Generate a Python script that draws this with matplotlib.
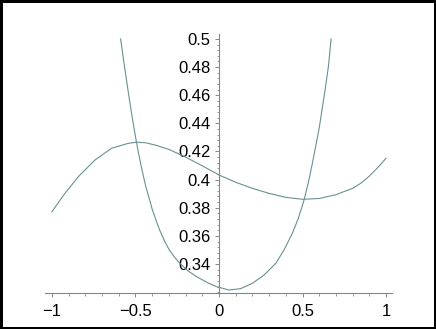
import matplotlib
matplotlib.use("Agg")
import matplotlib.pyplot as plt
import numpy as np
from matplotlib.patches import Rectangle
from matplotlib.ticker import FixedLocator

# steep curve (parabola-like)
x1 = [-0.589, -0.567, -0.545, -0.52, -0.493, -0.468, -0.443, -0.42, -0.4, -0.375,
      -0.353, -0.325, -0.3, -0.27, -0.244, -0.19, -0.134, -0.07, -0.014, 0.06,
      0.13, 0.2, 0.27, 0.34, 0.39, 0.439, 0.475, 0.509, 0.535, 0.559, 0.6,
      0.635, 0.655, 0.671]
y1 = [0.5, 0.4815, 0.4637, 0.4445, 0.4258, 0.4107, 0.3974, 0.3875, 0.379, 0.3704,
      0.3635, 0.3562, 0.3505, 0.3455, 0.3417, 0.3355, 0.331, 0.3268, 0.3239,
      0.3215, 0.3225, 0.3263, 0.3322, 0.3405, 0.3502, 0.3618, 0.3725, 0.3855,
      0.398, 0.4116, 0.4368, 0.4637, 0.4805, 0.5]

# flat wavy curve
x2 = [-1.0, -0.922, -0.842, -0.742, -0.643, -0.543, -0.493, -0.44, -0.383, -0.3,
      -0.2, -0.1, 0.0, 0.1, 0.2, 0.3, 0.4, 0.5, 0.6, 0.7, 0.8, 0.85, 0.9, 0.95,
      1.0]
y2 = [0.3772, 0.3903, 0.4021, 0.414, 0.4223, 0.4258, 0.4266, 0.4262, 0.4246,
      0.4215, 0.416, 0.4098, 0.4033, 0.3981, 0.3938, 0.3902, 0.3874, 0.386,
      0.3866, 0.3893, 0.3938, 0.3975, 0.4025, 0.4085, 0.4152]

y_ticks = [0.34, 0.36, 0.38, 0.40, 0.42, 0.44, 0.46, 0.48, 0.50]
y_labels = ["0.34", "0.36", "0.38", "0.4", "0.42", "0.44", "0.46", "0.48", "0.5"]
x_ticks = [-1, -0.5, 0, 0.5, 1]
x_labels = ["\u22121", "\u22120.5", "0", "0.5", "1"]

plt.rcParams["font.family"] = ["Liberation Sans", "DejaVu Sans"]

fig = plt.figure(figsize=(4.36, 3.29), dpi=100)
ax = fig.add_axes([0, 0, 1, 1])
ax.set_facecolor("none")

curve_col = "#6a9090"
ax.plot(x1, y1, color=curve_col, lw=0.8)
ax.plot(x2, y2, color=curve_col, lw=0.8)

ax.set_xlim(-1.311, 1.299)
ax.set_ylim(0.2938, 0.5277)

axis_col = "#8c8484"
for s in ["top", "right"]:
    ax.spines[s].set_visible(False)
ax.spines["left"].set_position(("data", 0))
ax.spines["bottom"].set_position(("data", 0.3194))
ax.spines["left"].set_bounds(0.3194, 0.5036)
ax.spines["bottom"].set_bounds(-1.042, 1.038)
for s in ["left", "bottom"]:
    ax.spines[s].set_color(axis_col)
    ax.spines[s].set_linewidth(0.8)

ax.set_xticks(x_ticks)
ax.set_xticklabels(x_labels)
ax.set_yticks(y_ticks)
ax.set_yticklabels(y_labels)
ax.xaxis.set_minor_locator(FixedLocator(np.arange(-10, 11) / 10))
ax.yaxis.set_minor_locator(FixedLocator(np.arange(80, 126) * 0.004))

ax.tick_params(which="major", direction="out", length=3, width=0.7,
               color=axis_col, labelsize=12, labelcolor="black")
ax.tick_params(which="minor", direction="out", length=1.8, width=0.6,
               color=axis_col)
ax.tick_params(axis="x", pad=5)
ax.tick_params(axis="y", pad=3)

# black frame around the picture
fig.patches.append(Rectangle((0, 0), 1, 1, transform=fig.transFigure,
                             fill=False, edgecolor="black", lw=3.6))

fig.savefig("out.png", dpi=100)
